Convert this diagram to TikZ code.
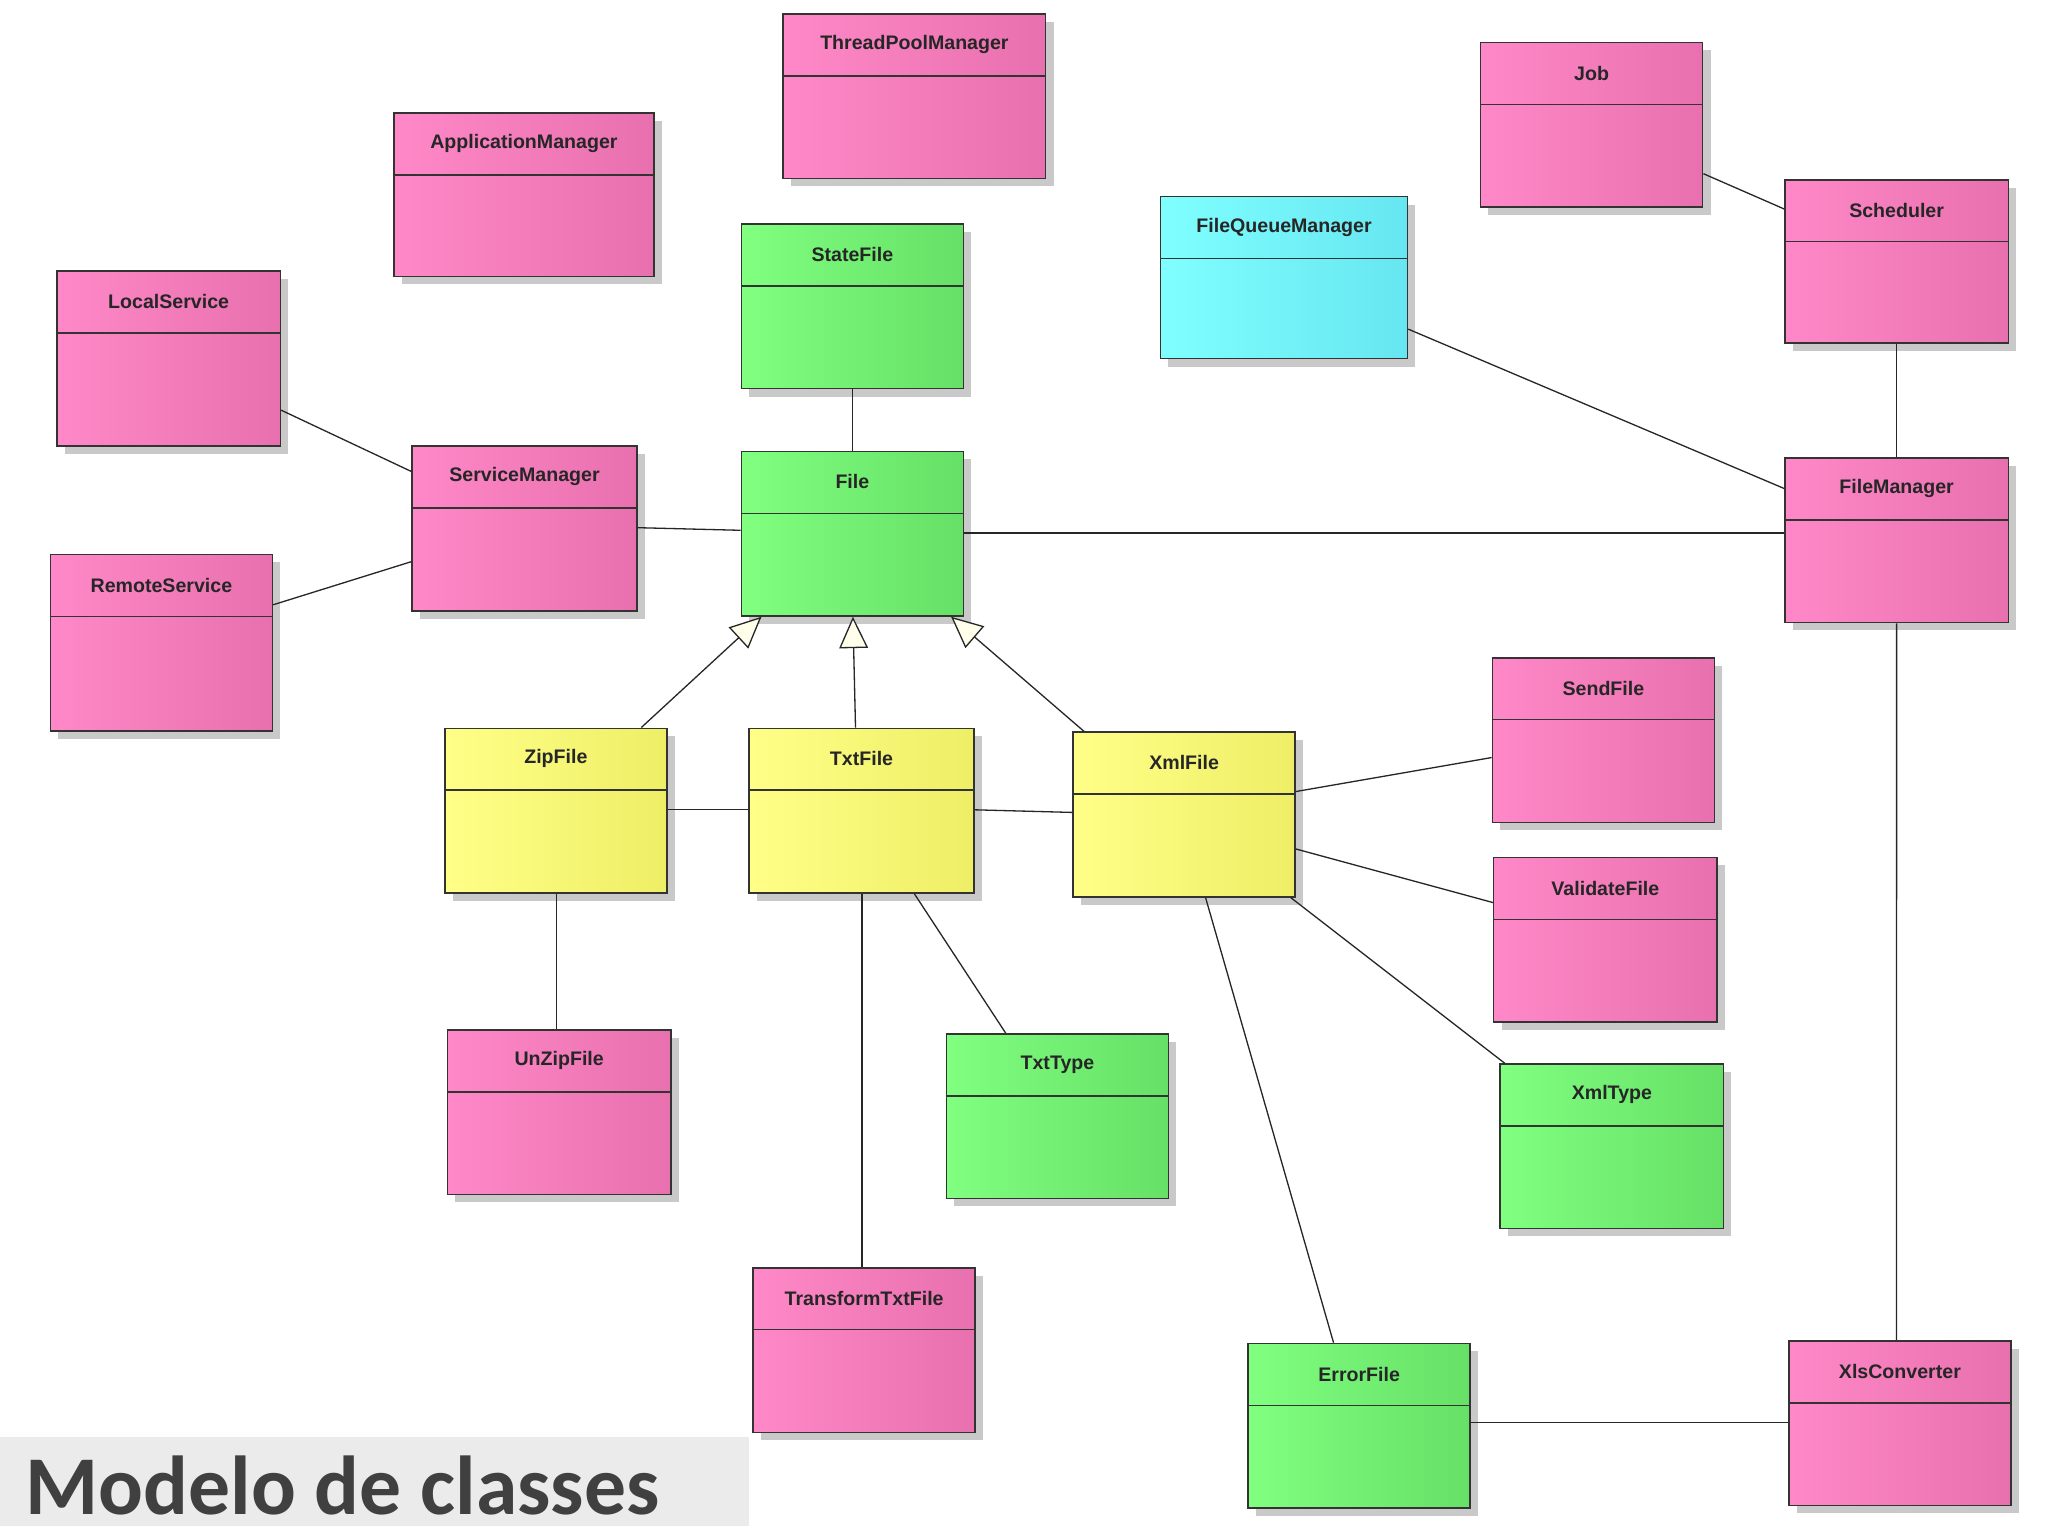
\documentclass[tikz,border=0pt]{standalone}
\usepackage{fontspec}
\setmainfont{Liberation Sans}
\newfontfamily\titlefont{Carlito}
\usetikzlibrary{shadows,arrows.meta,calc}
\definecolor{pkA}{HTML}{FF88C8}
\definecolor{pkB}{HTML}{E870AE}
\definecolor{gnA}{HTML}{80FF80}
\definecolor{gnB}{HTML}{66E066}
\definecolor{ylA}{HTML}{FFFF88}
\definecolor{ylB}{HTML}{EEEE66}
\definecolor{cyA}{HTML}{80FFFF}
\definecolor{cyB}{HTML}{66E6F0}
\tikzset{
  umlbox/.style={draw=black!80, line width=1.2pt, anchor=north west, inner sep=0pt,
    drop shadow={shadow xshift=6pt, shadow yshift=-6pt, fill=black!35, opacity=0.6}},
  pinkbox/.style={umlbox, left color=pkA, right color=pkB},
  greenbox/.style={umlbox, left color=gnA, right color=gnB},
  yellowbox/.style={umlbox, left color=ylA, right color=ylB},
  cyanbox/.style={umlbox, left color=cyA, right color=cyB},
  boxname/.style={font=\fontsize{15}{18}\selectfont\bfseries, text=black!85},
  conn/.style={line width=1pt, black!85},
  inh/.style={conn, -{Triangle[open, length=24pt, width=22pt, fill=yellow!8]}}
}
\newcommand{\umlbox}[7]{%
  \node[#6, minimum width=#4pt, minimum height=#5pt] (#1) at (#2,#3) {};
  \node[boxname] at ($(#1.north)+(0,24)$) {#7};
  \draw[black!80, line width=1.2pt] ($(#1.north west)+(0,48)$) -- ($(#1.north east)+(0,48)$);
}
\begin{document}
\begin{tikzpicture}[x=1pt,y=-1pt]
\useasboundingbox[fill=white] (0,0) rectangle (1568,1176);
\umlbox{tpm}{599}{10}{201}{126}{pinkbox}{ThreadPoolManager}
\umlbox{app}{301}{86}{199}{125}{pinkbox}{ApplicationManager}
\umlbox{job}{1133}{32}{170}{126}{pinkbox}{Job}
\umlbox{sch}{1366}{137}{171}{125}{pinkbox}{Scheduler}
\umlbox{fqm}{888}{150}{189}{124}{cyanbox}{FileQueueManager}
\umlbox{state}{567}{171}{170}{126}{greenbox}{StateFile}
\umlbox{local}{43}{207}{171}{134}{pinkbox}{LocalService}
\umlbox{svc}{315}{341}{172}{126}{pinkbox}{ServiceManager}
\umlbox{file}{567}{345}{170}{126}{greenbox}{File}
\umlbox{fm}{1366}{350}{171}{126}{pinkbox}{FileManager}
\umlbox{remote}{38}{424}{170}{135}{pinkbox}{RemoteService}
\umlbox{send}{1142}{503}{170}{126}{pinkbox}{SendFile}
\umlbox{zip}{340}{557}{170}{126}{yellowbox}{ZipFile}
\umlbox{txt}{573}{557}{172}{126}{yellowbox}{TxtFile}
\umlbox{xml}{821}{560}{170}{126}{yellowbox}{XmlFile}
\umlbox{val}{1143}{656}{171}{126}{pinkbox}{ValidateFile}
\umlbox{unzip}{342}{788}{171}{126}{pinkbox}{UnZipFile}
\umlbox{txtt}{724}{791}{170}{126}{greenbox}{TxtType}
\umlbox{xmlt}{1148}{814}{171}{126}{greenbox}{XmlType}
\umlbox{trans}{576}{970}{170}{126}{pinkbox}{TransformTxtFile}
\umlbox{err}{955}{1028}{170}{126}{greenbox}{ErrorFile}
\umlbox{xls}{1369}{1026}{170}{126}{pinkbox}{XlsConverter}
% title
\node[fill=black!8, minimum width=573pt, minimum height=68pt, anchor=north west, inner sep=0pt] (titlebox) at (0,1100) {};
\node[anchor=west, font=\titlefont\fontsize{64}{70}\selectfont\bfseries, text=black!75] (title) at ($(titlebox.west)+(16,3)$) {Modelo de classes};
% connectors
\draw[conn] ($(job.north east)+(0,101)$) -- ($(sch.north west)+(0,23)$);
\draw[conn] (sch.south) -- (fm.north);
\draw[conn] ($(fqm.north east)+(0,102)$) -- ($(fm.north west)+(0,24)$);
\draw[conn] ($(file.north east)+(0,63)$) -- ($(fm.north west)+(0,58)$);
\draw[conn] (state.south) -- (file.north);
\draw[conn] ($(local.north east)+(0,107)$) -- ($(svc.north west)+(0,20)$);
\draw[conn] ($(remote.north east)+(0,39)$) -- ($(svc.north west)+(0,89)$);
\draw[conn] ($(svc.north east)+(0,63)$) -- ($(file.north west)+(0,61)$);
\draw[inh] ($(zip.north west)+(151,0)$) -- ($(file.south west)+(16,0)$);
\draw[inh] ($(txt.north west)+(82,0)$) -- ($(file.south west)+(86,0)$);
\draw[inh] ($(xml.north west)+(9,0)$) -- ($(file.south east)+(-10,0)$);
\draw[conn] ($(zip.north east)+(0,63)$) -- ($(txt.north west)+(0,63)$);
\draw[conn] ($(txt.north east)+(0,63)$) -- ($(xml.north west)+(0,62)$);
\draw[conn] ($(zip.south west)+(86,0)$) -- ($(unzip.north west)+(84,0)$);
\draw[conn] ($(txt.south west)+(87,0)$) -- ($(trans.north west)+(84,0)$);
\draw[conn] ($(txt.south west)+(127,0)$) -- ($(txtt.north west)+(46,0)$);
\draw[conn] ($(xml.north east)+(0,46)$) -- ($(send.north west)+(0,77)$);
\draw[conn] ($(xml.north east)+(0,90)$) -- ($(val.north west)+(0,35)$);
\draw[conn] ($(xml.south east)+(-4,0)$) -- ($(xmlt.north west)+(4,0)$);
\draw[conn] ($(xml.south west)+(102,0)$) -- ($(err.north west)+(66,0)$);
\draw[conn] (fm.south) -- ($(xls.north west)+(83,0)$);
\draw[conn] ($(err.north east)+(0,61)$) -- ($(xls.north west)+(0,63)$);
\end{tikzpicture}
\end{document}
